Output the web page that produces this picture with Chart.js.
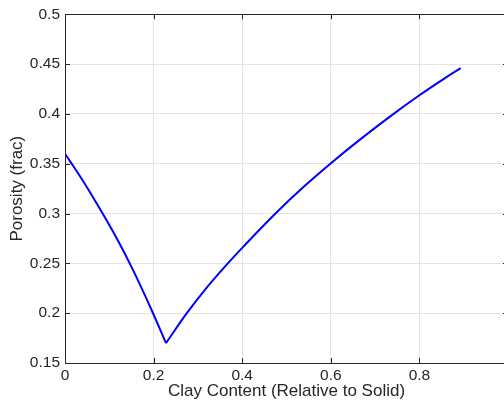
<!DOCTYPE html>
<html>
<head>
<meta charset="utf-8">
<script src="https://cdn.jsdelivr.net/npm/chart.js@4/dist/chart.umd.min.js"></script>
<style>
  html, body { margin: 0; padding: 0; background: #fff; overflow: hidden; width: 504px; height: 405px; }
  canvas { display: block; }
</style>
</head>
<body>
<canvas id="c" width="520" height="405"></canvas>
<script>
// Porosity versus clay content (fraction of solid volume).
// Falling branch: clay filling the sand pore space; rising branch: clay-supported.
const clayFalling     = [0, 0.015, 0.04, 0.085, 0.12, 0.147, 0.175, 0.198, 0.228];
const porosityFalling = [0.360, 0.3501, 0.3332, 0.300, 0.2724, 0.2492, 0.2232, 0.2007, 0.170];
const clayRising      = [0.228, 0.275, 0.32, 0.369, 0.40, 0.474, 0.54, 0.605, 0.67, 0.741, 0.80, 0.85, 0.893];
const porosityRising  = [0.170, 0.200, 0.2257, 0.2507, 0.2656, 0.2996, 0.3273, 0.3523, 0.3757, 0.3998, 0.4187, 0.4337, 0.446];

const xTicks = [0, 0.2, 0.4, 0.6, 0.8, 1];
const yTicks = [0.15, 0.2, 0.25, 0.3, 0.35, 0.4, 0.45, 0.5];

const axisColor = '#262626';
const fontFamily = "'Liberation Sans', Arial, Helvetica, sans-serif";

// Box outline with inward-pointing tick marks on all four sides
const boxTicks = {
  id: 'boxTicks',
  afterDraw(chart) {
    const { ctx, chartArea: a, scales: { x, y } } = chart;
    const len = 5;
    ctx.save();
    ctx.strokeStyle = axisColor;
    ctx.lineWidth = 1;
    ctx.beginPath();
    ctx.rect(Math.round(a.left) + 0.5, Math.round(a.top) + 0.5,
             Math.round(a.right - a.left), Math.round(a.bottom - a.top));
    xTicks.forEach(v => {
      const px = Math.round(x.getPixelForValue(v)) + 0.5;
      ctx.moveTo(px, a.bottom); ctx.lineTo(px, a.bottom - len);
      ctx.moveTo(px, a.top); ctx.lineTo(px, a.top + len);
    });
    yTicks.forEach(v => {
      const py = Math.round(y.getPixelForValue(v)) + 0.5;
      ctx.moveTo(a.left, py); ctx.lineTo(a.left + len, py);
      ctx.moveTo(a.right, py); ctx.lineTo(a.right - len, py);
    });
    ctx.stroke();
    ctx.restore();
  }
};

const branch = (xs, ys) => ({
  data: xs.map((c, i) => ({ x: c, y: ys[i] })),
  borderColor: '#0000ff',
  borderWidth: 2,
  pointRadius: 0,
  cubicInterpolationMode: 'monotone',
  fill: false
});

new Chart(document.getElementById('c'), {
  type: 'line',
  data: {
    datasets: [
      branch(clayFalling, porosityFalling),
      branch(clayRising, porosityRising)
    ]
  },
  options: {
    responsive: false,
    animation: false,
    devicePixelRatio: 1,
    layout: { padding: { top: 13, right: 12, bottom: 0, left: 0 } },
    plugins: { legend: { display: false }, tooltip: { enabled: false } },
    scales: {
      x: {
        type: 'linear',
        min: 0, max: 1,
        afterBuildTicks: s => { s.ticks = xTicks.map(v => ({ value: v })); },
        afterFit: s => { s.height = 42; },
        grid: { color: '#e3e3e3', drawTicks: false },
        border: { color: axisColor, width: 1 },
        ticks: {
          padding: 3,
          color: axisColor,
          font: { family: fontFamily, size: 15.5 },
          maxRotation: 0,
          autoSkip: false,
          callback: v => (v === 1 ? '' : String(v))
        },
        title: {
          display: true,
          text: 'Clay Content (Relative to Solid)',
          color: axisColor,
          font: { family: fontFamily, size: 17 },
          padding: { top: 0, bottom: 3 }
        }
      },
      y: {
        type: 'linear',
        min: 0.15, max: 0.5,
        afterBuildTicks: s => { s.ticks = yTicks.map(v => ({ value: v })); },
        afterFit: s => { s.width = 65; },
        grid: { color: '#e3e3e3', drawTicks: false },
        border: { color: axisColor, width: 1 },
        ticks: {
          padding: 5,
          color: axisColor,
          font: { family: fontFamily, size: 15.5 },
          autoSkip: false,
          callback: v => String(v)
        },
        title: {
          display: true,
          text: 'Porosity (frac)',
          color: axisColor,
          font: { family: fontFamily, size: 17 },
          padding: { top: 7, bottom: 0 }
        }
      }
    }
  },
  plugins: [boxTicks]
});
</script>
</body>
</html>
